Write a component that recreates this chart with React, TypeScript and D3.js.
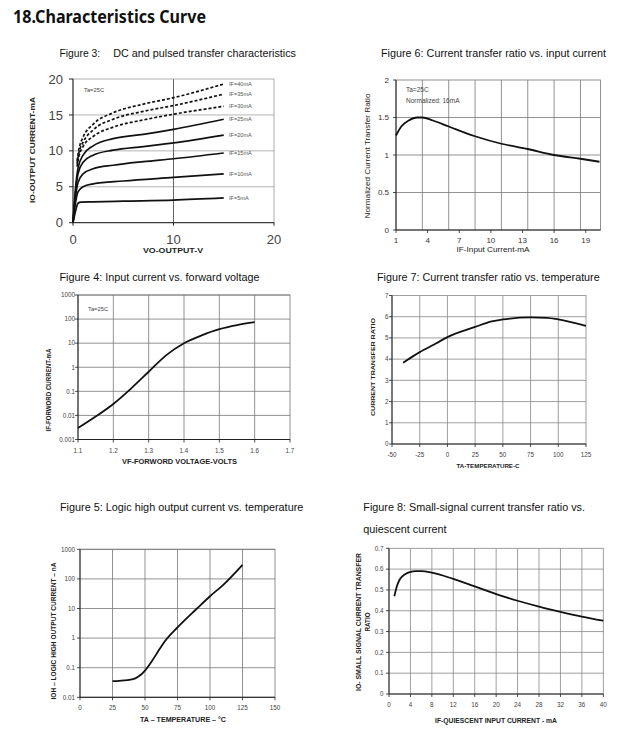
import * as d3 from "d3";
import type { FC, ReactNode } from "react";

type Pt = [number, number];

// ---- Figure 3: DC and pulsed transfer characteristics (VO, IO) ----
const if5: Pt[] = [[0, 0], [0.25, 1.6], [0.5, 2.7], [0.8, 2.85], [2, 2.9], [5, 3.0], [10, 3.15], [15, 3.45]];
const if10: Pt[] = [[0, 0], [0.25, 2.8], [0.5, 4.3], [1, 5.0], [2, 5.4], [5, 5.8], [10, 6.3], [15, 6.8]];
const if15: Pt[] = [[0, 0], [0.25, 3.6], [0.5, 5.6], [1, 6.8], [2, 7.5], [4, 8.0], [7, 8.5], [10, 8.9], [15, 9.7]];
const if20: Pt[] = [[0, 0], [0.25, 4.2], [0.5, 6.8], [1, 8.4], [2, 9.4], [4, 10.1], [7, 10.6], [10, 11.1], [15, 12.2]];
const if25: Pt[] = [[0, 0], [0.25, 4.8], [0.5, 7.6], [1, 9.4], [2, 10.7], [4, 11.7], [7, 12.3], [10, 13.0], [15, 14.4]];
const if30: Pt[] = [[0.4, 7.8], [0.6, 9.3], [1, 10.6], [2, 12.0], [4, 13.3], [7, 14.3], [10, 15.1], [15, 16.2]];
const if35: Pt[] = [[0.4, 8.2], [0.6, 9.8], [1, 11.2], [2, 12.9], [4, 14.4], [7, 15.5], [10, 16.3], [15, 17.9]];
const if40: Pt[] = [[0.4, 8.6], [0.6, 10.3], [1, 11.9], [2, 13.7], [4, 15.3], [7, 16.5], [10, 17.4], [15, 19.3]];
const fig3Solid = [if5, if10, if15, if20, if25];
const fig3Dashed = [if30, if35, if40];
const fig3Labels = ["IF=5mA", "IF=10mA", "IF=15mA", "IF=20mA", "IF=25mA", "IF=30mA", "IF=35mA", "IF=40mA"];
const fig3Ticks = [0, 5, 10, 15, 20];
const fig3XTicks = [0, 10, 20];

// ---- Figure 6: CTR vs input current ----
const fig6If = [1, 1.5, 2.2, 3, 3.5, 4.5, 6, 8.5, 11, 13.5, 16, 18.5, 20.3];
const fig6Ctr = [1.26, 1.38, 1.46, 1.5, 1.5, 1.46, 1.38, 1.25, 1.15, 1.08, 1.0, 0.95, 0.91];
const fig6XTicks = [1, 4, 7, 10, 13, 16, 19];
const fig6XGrid = [3.5, 6, 8.5, 11, 13.5, 16, 18.5];
const fig6YTicks = [0, 0.5, 1, 1.5, 2];

// ---- Figure 4: IF vs VF ----
const fig4Vf = [1.1, 1.15, 1.2, 1.25, 1.3, 1.35, 1.4, 1.45, 1.5, 1.55, 1.6];
const fig4If = [0.003, 0.009, 0.03, 0.13, 0.65, 3.2, 10, 21, 38, 56, 74];
const fig4XTicks = [1.1, 1.2, 1.3, 1.4, 1.5, 1.6, 1.7];
const fig4YTicks = [0.001, 0.01, 0.1, 1, 10, 100, 1000];

// ---- Figure 7: CTR vs temperature ----
const fig7T = [-40, -25, -10, 0, 25, 40, 50, 75, 90, 100, 125];
const fig7Ctr = [3.83, 4.33, 4.75, 5.04, 5.52, 5.78, 5.87, 5.97, 5.95, 5.87, 5.57];
const fig7XTicks = [-50, -25, 0, 25, 50, 75, 100, 125];
const fig7YTicks = [0, 1, 2, 3, 4, 5, 6, 7];

// ---- Figure 5: IOH vs temperature ----
const fig5T = [25, 30, 40, 45, 50, 55, 60, 65, 75, 90, 100, 110, 125];
const fig5Ioh = [0.035, 0.036, 0.04, 0.05, 0.08, 0.16, 0.35, 0.75, 2.3, 10, 26, 62, 300];
const fig5XTicks = [0, 25, 50, 75, 100, 125, 150];
const fig5YTicks = [0.01, 0.1, 1, 10, 100, 1000];

// ---- Figure 8: small-signal CTR vs quiescent current ----
const fig8If = [1, 1.5, 2, 3, 4, 5, 6, 8, 12, 16, 20, 24, 28, 32, 36, 40];
const fig8Ctr = [0.47, 0.52, 0.55, 0.575, 0.587, 0.59, 0.59, 0.583, 0.553, 0.517, 0.48, 0.448, 0.42, 0.395, 0.372, 0.352];
const fig8XTicks = [0, 4, 8, 12, 16, 20, 24, 28, 32, 36, 40];
const fig8YTicks = [0, 0.1, 0.2, 0.3, 0.4, 0.5, 0.6, 0.7];

const FONT = "'Liberation Sans', Arial, sans-serif";

type Scale = (v: number) => number;

interface FrameProps {
  x: Scale;
  y: Scale;
  xDomain: [number, number];
  yDomain: [number, number];
  xGrid: number[];
  yGrid: number[];
  gridColor: string;
  xTicks: number[];
  yTicks: number[];
  fmtX?: (v: number) => string;
  fmtY?: (v: number) => string;
  tickSize: number;
  tickColor: string;
  yLabelX: number;
  xLabelY: number;
  children?: ReactNode;
}

const Frame: FC<FrameProps> = (p) => {
  const [xa, xb] = p.xDomain.map(p.x);
  const [ya, yb] = p.yDomain.map(p.y);
  const fx = p.fmtX ?? ((v) => String(v));
  const fy = p.fmtY ?? ((v) => String(v));
  return (
    <g>
      {p.xGrid.map((v, i) => (
        <line key={"gx" + i} x1={p.x(v)} x2={p.x(v)} y1={ya} y2={yb} stroke={p.gridColor} strokeWidth={0.8} />
      ))}
      {p.yGrid.map((v, i) => (
        <line key={"gy" + i} x1={xa} x2={xb} y1={p.y(v)} y2={p.y(v)} stroke={p.gridColor} strokeWidth={0.8} />
      ))}
      <rect x={xa} y={yb} width={xb - xa} height={ya - yb} fill="none" stroke={p.gridColor} strokeWidth={0.8} />
      <line x1={xa} x2={xa} y1={ya} y2={yb} stroke="#222" strokeWidth={1} />
      <line x1={xa} x2={xb} y1={ya} y2={ya} stroke="#222" strokeWidth={1} />
      {p.yTicks.map((v, i) => (
        <g key={"ty" + i}>
          <line x1={xa - 3} x2={xa} y1={p.y(v)} y2={p.y(v)} stroke="#222" strokeWidth={0.8} />
          <text x={p.yLabelX} y={p.y(v) + p.tickSize * 0.36} textAnchor="end" fontSize={p.tickSize} fill={p.tickColor} fontFamily={FONT}>
            {fy(v)}
          </text>
        </g>
      ))}
      {p.xTicks.map((v, i) => (
        <g key={"tx" + i}>
          <line x1={p.x(v)} x2={p.x(v)} y1={ya} y2={ya + 3} stroke="#222" strokeWidth={0.8} />
          <text x={p.x(v)} y={p.xLabelY} textAnchor="middle" fontSize={p.tickSize} fill={p.tickColor} fontFamily={FONT}>
            {fx(v)}
          </text>
        </g>
      ))}
      {p.children}
    </g>
  );
};

const lineGen = (x: Scale, y: Scale) =>
  d3
    .line<Pt>()
    .x((d) => x(d[0]))
    .y((d) => y(d[1]))
    .curve(d3.curveMonotoneX);

const zip = (a: number[], b: number[]): Pt[] => a.map((v, i) => [v, b[i]]);

const Title: FC<{ x: number; y: number; w: number; text: string }> = ({ x, y, w, text }) => (
  <text x={x} y={y} fontSize={11} fontFamily={FONT} fill="#111" textLength={w} lengthAdjust="spacingAndGlyphs">
    {text}
  </text>
);

const VLabel: FC<{ x: number; y: number; size: number; text: string; bold?: boolean; len?: number }> = ({ x, y, size, text, bold, len }) => (
  <text
    transform={`translate(${x},${y}) rotate(-90)`}
    textAnchor="middle"
    dominantBaseline="central"
    fontSize={size}
    fontWeight={bold ? 700 : 400}
    fontFamily={FONT}
    fill="#222"
    textLength={len}
    lengthAdjust={len ? "spacingAndGlyphs" : undefined}
  >
    {text}
  </text>
);

const HLabel: FC<{ x: number; y: number; size: number; text: string; bold?: boolean; len?: number }> = ({ x, y, size, text, bold, len }) => (
  <text
    x={x}
    y={y}
    textAnchor="middle"
    fontSize={size}
    fontWeight={bold ? 700 : 400}
    fontFamily={FONT}
    fill="#222"
    textLength={len}
    lengthAdjust={len ? "spacingAndGlyphs" : undefined}
  >
    {text}
  </text>
);

const Note: FC<{ x: number; y: number; size: number; text: string }> = ({ x, y, size, text }) => (
  <text x={x} y={y} fontSize={size} fontFamily={FONT} fill="#444">
    {text}
  </text>
);

export default function App() {
  // figure 3
  const x3 = d3.scaleLinear().domain([0, 20]).range([73, 274]);
  const y3 = d3.scaleLinear().domain([0, 20]).range([222.7, 79]);
  const l3 = lineGen(x3, y3);
  const fig3Curves = [...fig3Solid, ...fig3Dashed];

  // figure 6
  const x6 = d3.scaleLinear().domain([1, 20.4]).range([396, 600.5]);
  const y6 = d3.scaleLinear().domain([0, 2]).range([230, 80]);
  const l6 = lineGen(x6, y6);

  // figure 4
  const x4 = d3.scaleLinear().domain([1.1, 1.7]).range([78, 290]);
  const y4 = d3.scaleLog().domain([0.001, 1000]).range([439.5, 295]);
  const l4 = lineGen(x4, y4);

  // figure 7
  const x7 = d3.scaleLinear().domain([-50, 125]).range([392, 586]);
  const y7 = d3.scaleLinear().domain([0, 7]).range([444, 295.5]);
  const l7 = lineGen(x7, y7);

  // figure 5
  const x5 = d3.scaleLinear().domain([0, 150]).range([80, 275]);
  const y5 = d3.scaleLog().domain([0.01, 1000]).range([697.3, 549.3]);
  const l5 = lineGen(x5, y5);

  // figure 8
  const x8 = d3.scaleLinear().domain([0, 40]).range([389, 603.3]);
  const y8 = d3.scaleLinear().domain([0, 0.7]).range([694, 548.3]);
  const l8 = lineGen(x8, y8);

  const small = 6.3;

  return (
    <svg width={631} height={740} style={{ position: "absolute", left: 0, top: 0, background: "#fff" }}>
      <text x={13} y={23} fontSize={18} fontWeight={700} fontFamily="'Noto Sans', 'Open Sans', sans-serif" fill="#111" textLength={193} lengthAdjust="spacingAndGlyphs">
        18.Characteristics Curve
      </text>

      {/* Figure 3 */}
      <Title x={59.5} y={57} w={40.7} text="Figure 3:" />
      <Title x={113.3} y={57} w={182.7} text="DC and pulsed transfer characteristics" />
      <g>
        {[5, 10, 15].map((v) => (
          <line key={v} x1={x3(0)} x2={x3(20)} y1={y3(v)} y2={y3(v)} stroke="#aaa" strokeWidth={0.9} />
        ))}
        <line x1={x3(10)} x2={x3(10)} y1={y3(0)} y2={y3(20)} stroke="#555" strokeWidth={0.9} />
        <rect x={x3(0)} y={y3(20)} width={x3(20) - x3(0)} height={y3(0) - y3(20)} fill="none" stroke="#999" strokeWidth={0.8} />
        <line x1={x3(0)} x2={x3(0)} y1={y3(0)} y2={y3(20)} stroke="#222" strokeWidth={1} />
        <line x1={x3(0)} x2={x3(20)} y1={y3(0)} y2={y3(0)} stroke="#222" strokeWidth={1} />
        {fig3Ticks.map((v) => (
          <g key={v}>
            <line x1={x3(0) - 4} x2={x3(0)} y1={y3(v)} y2={y3(v)} stroke="#222" />
            <text x={63} y={y3(v) + 4.6} textAnchor="end" fontSize={13} fill="#444" fontFamily={FONT}>
              {v}
            </text>
          </g>
        ))}
        {fig3XTicks.map((v) => (
          <g key={v}>
            <line x1={x3(v)} x2={x3(v)} y1={y3(0)} y2={y3(0) + 3} stroke="#222" />
            <text x={x3(v)} y={244} textAnchor="middle" fontSize={13} fill="#444" fontFamily={FONT}>
              {v}
            </text>
          </g>
        ))}
        {fig3Solid.map((c, i) => (
          <path key={"s" + i} d={l3(c) ?? ""} fill="none" stroke="#111" strokeWidth={1.7} />
        ))}
        {fig3Dashed.map((c, i) => (
          <path key={"d" + i} d={l3(c) ?? ""} fill="none" stroke="#111" strokeWidth={1.7} strokeDasharray="3 2" />
        ))}
        {fig3Curves.map((c, i) => (
          <text key={"l" + i} x={229} y={y3(c[c.length - 1][1]) + 2} fontSize={5.6} fill="#555" fontFamily={FONT}>
            {fig3Labels[i]}
          </text>
        ))}
        <Note x={84} y={92} size={5.8} text="Ta=25C" />
        <VLabel x={32.5} y={150} size={8} bold text="IO-OUTPUT CURRENT-mA" len={106} />
        <HLabel x={173} y={253} size={8} bold text="VO-OUTPUT-V" len={60} />
      </g>

      {/* Figure 6 */}
      <Title x={381} y={57} w={225} text="Figure 6: Current transfer ratio vs. input current" />
      <Frame
        x={x6}
        y={y6}
        xDomain={[1, 20.4]}
        yDomain={[0, 2]}
        xGrid={fig6XGrid}
        yGrid={[0.5, 1, 1.5]}
        gridColor="#777"
        xTicks={fig6XTicks}
        yTicks={fig6YTicks}
        tickSize={8}
        tickColor="#333"
        yLabelX={389}
        xLabelY={243}
      >
        <path d={l6(zip(fig6If, fig6Ctr)) ?? ""} fill="none" stroke="#111" strokeWidth={1.8} />
        <Note x={406} y={92} size={6.5} text="Ta=25C" />
        <Note x={406} y={102.5} size={6.5} text="Normalized: 16mA" />
      </Frame>
      <VLabel x={367.5} y={156} size={7.6} text="Normalized Current Transfer Ratio" len={125} />
      <HLabel x={493} y={252} size={7.8} text="IF-Input Current-mA" len={73} />

      {/* Figure 4 */}
      <Title x={59.5} y={281} w={200} text="Figure 4: Input current vs. forward voltage" />
      <Frame
        x={x4}
        y={y4}
        xDomain={[1.1, 1.7]}
        yDomain={[0.001, 1000]}
        xGrid={[1.2, 1.3, 1.4, 1.5, 1.6]}
        yGrid={fig4YTicks}
        gridColor="#777"
        xTicks={fig4XTicks}
        yTicks={fig4YTicks}
        fmtX={(v) => v.toFixed(1)}
        tickSize={small}
        tickColor="#444"
        yLabelX={75}
        xLabelY={453}
      >
        <path d={l4(zip(fig4Vf, fig4If)) ?? ""} fill="none" stroke="#111" strokeWidth={1.8} />
        <Note x={88} y={311} size={5.8} text="Ta=25C" />
      </Frame>
      <VLabel x={48.5} y={390} size={6.5} bold text="IF-FORWORD CURRENT-mA" len={83} />
      <HLabel x={179.5} y={464} size={6.5} bold text="VF-FORWORD VOLTAGE-VOLTS" len={115} />

      {/* Figure 7 */}
      <Title x={377} y={281} w={222.7} text="Figure 7: Current transfer ratio vs. temperature" />
      <Frame
        x={x7}
        y={y7}
        xDomain={[-50, 125]}
        yDomain={[0, 7]}
        xGrid={[-25, 0, 25, 50, 75, 100]}
        yGrid={[1, 2, 3, 4, 5, 6]}
        gridColor="#888"
        xTicks={fig7XTicks}
        yTicks={fig7YTicks}
        tickSize={small}
        tickColor="#444"
        yLabelX={388.5}
        xLabelY={456.5}
      >
        <path d={l7(zip(fig7T, fig7Ctr)) ?? ""} fill="none" stroke="#111" strokeWidth={1.8} />
      </Frame>
      <VLabel x={373.3} y={367} size={6} bold text="CURRENT TRANSFER RATIO" len={98} />
      <HLabel x={488} y={467.5} size={6} bold text="TA-TEMPERATURE-C" len={63} />

      {/* Figure 5 */}
      <Title x={60} y={511} w={243.3} text="Figure 5: Logic high output current vs. temperature" />
      <Frame
        x={x5}
        y={y5}
        xDomain={[0, 150]}
        yDomain={[0.01, 1000]}
        xGrid={[25, 50, 75, 100, 125]}
        yGrid={fig5YTicks}
        gridColor="#777"
        xTicks={fig5XTicks}
        yTicks={fig5YTicks}
        tickSize={small}
        tickColor="#444"
        yLabelX={75}
        xLabelY={710}
      >
        <path d={l5(zip(fig5T, fig5Ioh)) ?? ""} fill="none" stroke="#111" strokeWidth={1.8} />
      </Frame>
      <VLabel x={53.3} y={631} size={6.3} bold text="IOH – LOGIC HIGH OUTPUT CURRENT – nA" len={137} />
      <HLabel x={183} y={721.5} size={6.3} bold text="TA – TEMPERATURE – °C" len={86} />

      {/* Figure 8 */}
      <Title x={363.3} y={511} w={221.7} text="Figure 8: Small-signal current transfer ratio vs." />
      <Title x={363.3} y={533} w={83.3} text="quiescent current" />
      <Frame
        x={x8}
        y={y8}
        xDomain={[0, 40]}
        yDomain={[0, 0.7]}
        xGrid={[4, 8, 12, 16, 20, 24, 28, 32, 36]}
        yGrid={[0.1, 0.2, 0.3, 0.4, 0.5, 0.6]}
        gridColor="#888"
        xTicks={fig8XTicks}
        yTicks={fig8YTicks}
        fmtY={(v) => (v === 0 ? "0" : v.toFixed(1))}
        tickSize={small}
        tickColor="#444"
        yLabelX={383.5}
        xLabelY={707}
      >
        <path d={l8(zip(fig8If, fig8Ctr)) ?? ""} fill="none" stroke="#111" strokeWidth={1.8} />
      </Frame>
      <VLabel x={358.3} y={622} size={6.3} bold text="IO- SMALL SIGNAL CURRENT TRANSFER" len={138} />
      <VLabel x={367.5} y={622} size={6.3} bold text="RATIO" />
      <HLabel x={496} y={722.5} size={6.3} bold text="IF-QUIESCENT INPUT CURRENT - mA" len={122} />
    </svg>
  );
}
